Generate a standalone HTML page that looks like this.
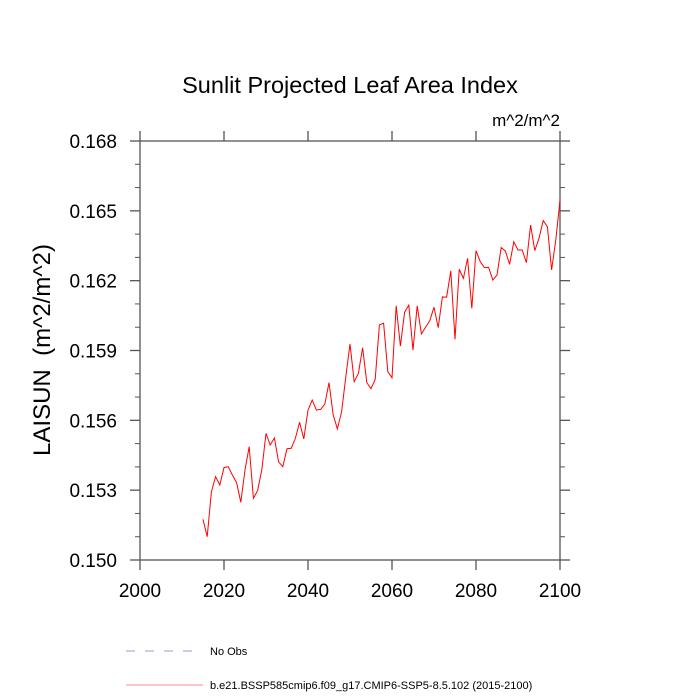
<!DOCTYPE html>
<html><head><meta charset="utf-8"><style>
body{margin:0;background:#fff;}
svg{display:block;font-family:"Liberation Sans",Arial,sans-serif;}
</style></head><body>
<svg id="chart" width="700" height="700" viewBox="0 0 700 700">
<text x="350" y="93" text-anchor="middle" font-size="23.5">Sunlit Projected Leaf Area Index</text>
<text x="560" y="126" text-anchor="end" font-size="17">m^2/m^2</text>
<text transform="translate(50,350) rotate(-90)" text-anchor="middle" font-size="24" style="white-space:pre" xml:space="preserve">LAISUN  (m^2/m^2)</text>
<g id="axes"></g>
<polyline id="series" fill="none" stroke="#ff0000" stroke-width="1"/>
<g>
<line x1="126" y1="651" x2="200" y2="651" stroke="#9999cc" stroke-dasharray="9,10"/>
<text x="210" y="655" font-size="11">No Obs</text>
<line x1="126" y1="685" x2="203" y2="685" stroke="#ff8888"/>
<text x="210" y="689" font-size="11">b.e21.BSSP585cmip6.f09_g17.CMIP6-SSP5-8.5.102 (2015-2100)</text>
</g>
</svg>
<script>
const startYear = 2015;
const values = [0.15175,0.15100,0.15293,0.15358,0.15322,0.15397,0.15401,0.15365,0.15332,0.15248,
0.15387,0.15487,0.15265,0.15298,0.15387,0.15544,0.15494,0.15524,0.15422,0.15401,
0.15478,0.15480,0.15523,0.15592,0.15520,0.15644,0.15687,0.15644,0.15647,0.15670,
0.15762,0.15623,0.15563,0.15637,0.15787,0.15928,0.15766,0.15802,0.15912,0.15762,
0.15736,0.15776,0.16010,0.16017,0.15809,0.15783,0.16092,0.15919,0.16064,0.16095,
0.15902,0.16092,0.15971,0.16000,0.16028,0.16086,0.15998,0.16130,0.16129,0.16242,
0.15948,0.16249,0.16210,0.16296,0.16081,0.16329,0.16282,0.16256,0.16257,0.16203,
0.16224,0.16342,0.16327,0.16270,0.16367,0.16332,0.16332,0.16277,0.16439,0.16329,
0.16382,0.16458,0.16432,0.16246,0.16375,0.16547];
const xTicks = [2000,2020,2040,2060,2080,2100];
const yTicks = [0.150,0.153,0.156,0.159,0.162,0.165,0.168];
const yTickLabels = ["0.150","0.153","0.156","0.159","0.162","0.165","0.168"];
const yMinorTicks = [0.151,0.152,0.154,0.155,0.157,0.158,0.160,0.161,0.163,0.164,0.166,0.167];

const L=140,R=560,T=141,B=560;
const xs=v=>L+(v-2000)/100*(R-L);
const ys=v=>B-(v-0.150)/0.018*(B-T);
const NS='http://www.w3.org/2000/svg';
const axes=document.getElementById('axes');
function mk(tag,attrs,parent){const e=document.createElementNS(NS,tag);for(const k in attrs)e.setAttribute(k,attrs[k]);parent.appendChild(e);return e;}
const frame=mk('rect',{x:L,y:T,width:R-L,height:B-T,fill:'none',stroke:'#555','stroke-width':1.3},axes);


xTicks.forEach(t=>{
  const x=xs(t);
  const a=mk('line',{x1:x,y1:B,x2:x,y2:B+10,stroke:'#555','stroke-width':1.3},axes);
  
  
  const b=mk('line',{x1:x,y1:T,x2:x,y2:T-10,stroke:'#555','stroke-width':1.3},axes);
  
  
  const tx=mk('text',{x:x,y:B+37,'text-anchor':'middle','font-size':19},axes);
  tx.textContent=t;
  
  
});
yTicks.forEach((t,i)=>{
  const y=ys(t);
  const a=mk('line',{x1:L-10,y1:y,x2:L,y2:y,stroke:'#555','stroke-width':1.3},axes);
  
  
  const b=mk('line',{x1:R,y1:y,x2:R+10,y2:y,stroke:'#555','stroke-width':1.3},axes);
  
  
  const tx=mk('text',{x:L-23,y:y+7,'text-anchor':'end','font-size':19},axes);
  tx.textContent=yTickLabels[i];
  
  
});
yMinorTicks.forEach(t=>{
  const y=ys(t);
  const a=mk('line',{x1:L-5,y1:y,x2:L,y2:y,stroke:'#555','stroke-width':1},axes);
  
  
  const b=mk('line',{x1:R,y1:y,x2:R+5,y2:y,stroke:'#555','stroke-width':1},axes);
  
  
});
document.getElementById('series').setAttribute('points',values.map((v,i)=>xs(startYear+i).toFixed(2)+','+ys(v).toFixed(2)).join(' '));
</script>
</body></html>
